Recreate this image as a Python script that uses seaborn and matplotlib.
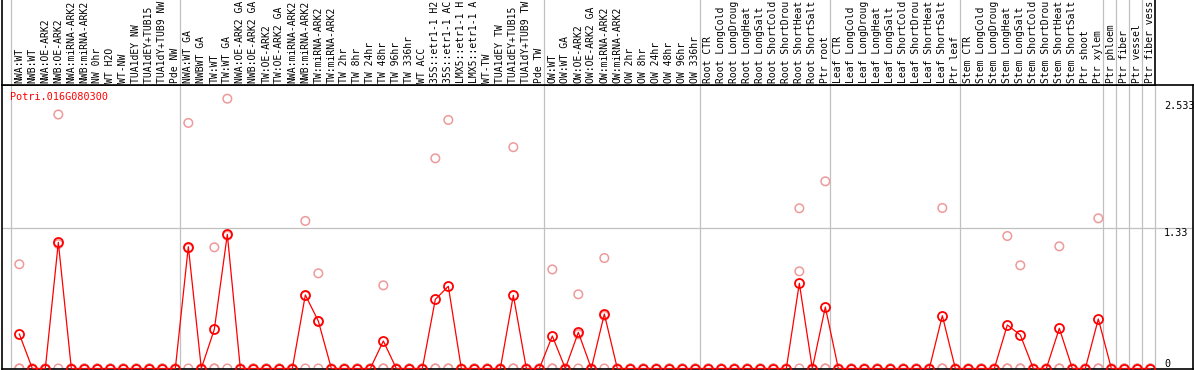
import matplotlib
matplotlib.use("Agg")
import matplotlib.pyplot as plt
import matplotlib.transforms as mtransforms
import seaborn as sns
import numpy as np
import pandas as pd

# ---------------- data ----------------
gene = "Potri.016G080300"

labels_g1 = ["NWA:WT", "NWB:WT", "NWA:OE-ARK2", "NWB:OE-ARK2", "NWA:miRNA-ARK2",
             "NWB:miRNA-ARK2", "NW 0hr", "WT H2O", "WT-NW", "TUA1dEY NW",
             "TUA1dEY+TUB15 NW", "TUA1dY+TUB9 NW", "Pde NW"]
labels_g2 = ["NWA:WT GA", "NWBWT GA", "TW:WT", "TW:WT GA", "NWA:OE-ARK2 GA",
             "NWB:OE-ARK2 GA", "TW:OE-ARK2", "TW:OE-ARK2 GA", "NWA:miRNA-ARK2",
             "NWB:miRNA-ARK2", "TW:miRNA-ARK2", "TW:miRNA-ARK2", "TW 2hr", "TW 8hr",
             "TW 24hr", "TW 48hr", "TW 96hr", "TW 336hr", "WT ACC",
             "35S::etr1-1 H2O", "35S::etr1-1 ACC", "LMX5::etr1-1 H2O",
             "LMX5::etr1-1 ACC", "WT-TW", "TUA1dEY TW", "TUA1dEY+TUB15 TW",
             "TUA1dY+TUB9 TW", "Pde TW"]
labels_g3 = ["OW:WT", "OW:WT GA", "OW:OE-ARK2", "OW:OE-ARK2 GA", "OW:miRNA-ARK2",
             "OW:miRNA-ARK2", "OW 2hr", "OW 8hr", "OW 24hr", "OW 48hr", "OW 96hr",
             "OW 336hr"]
labels_g4 = ["Root CTR", "Root LongCold", "Root LongDrought", "Root LongHeat",
             "Root LongSalt", "Root ShortCold", "Root ShortDrought", "Root ShortHeat",
             "Root ShortSalt", "Ptr root"]
labels_g5 = ["Leaf CTR", "Leaf LongCold", "Leaf LongDrought", "Leaf LongHeat",
             "Leaf LongSalt", "Leaf ShortCold", "Leaf ShortDrought", "Leaf ShortHeat",
             "Leaf ShortSalt", "Ptr leaf"]
labels_g6 = ["Stem CTR", "Stem LongCold", "Stem LongDrought", "Stem LongHeat",
             "Stem LongSalt", "Stem ShortCold", "Stem ShortDrought", "Stem ShortHeat",
             "Stem ShortSalt", "Ptr shoot", "Ptr xylem"]
labels_g7 = ["Ptr phloem", "Ptr fiber", "Ptr vessel", "Ptr fiber vessel"]

mean_g1 = [0.327, 0, 0, 1.197, 0, 0, 0, 0, 0, 0, 0, 0, 0]
mean_g2 = [1.156, 0, 0.372, 1.273, 0, 0, 0, 0, 0, 0.697, 0.45, 0, 0, 0, 0,
           0.261, 0, 0, 0, 0.656, 0.78, 0, 0, 0, 0, 0.694, 0, 0]
mean_g3 = [0.308, 0, 0.343, 0, 0.517, 0, 0, 0, 0, 0, 0, 0]
mean_g4 = [0, 0, 0, 0, 0, 0, 0, 0.808, 0, 0.583]
mean_g5 = [0, 0, 0, 0, 0, 0, 0, 0, 0.501, 0]
mean_g6 = [0, 0, 0, 0.413, 0.318, 0, 0, 0.381, 0, 0, 0.47]
mean_g7 = [0, 0, 0, 0]

rep1_g1 = [0.989, 0, 0, 2.41, 0, 0, 0, 0, 0, 0, 0, 0, 0]
rep1_g2 = [2.33, 0, 1.15, 2.56, 0, 0, 0, 0, 0, 1.40, 0.903, 0, 0, 0, 0,
           0.789, 0, 0, 0, 1.994, 2.358, 0, 0, 0, 0, 2.10, 0, 0]
rep1_g3 = [0.94, 0, 0.704, 0, 1.048, 0, 0, 0, 0, 0, 0, 0]
rep1_g4 = [0, 0, 0, 0, 0, 0, 0, 1.52, 0, 1.776]
rep1_g5 = [0, 0, 0, 0, 0, 0, 0, 0, 1.523, 0]
rep1_g6 = [0, 0, 0, 1.257, 0.979, 0, 0, 1.159, 0, 0, 1.425]
rep1_g7 = [0, 0, 0, 0]

rep2_g1 = [0, 0, 0, 1.18, 0, 0, 0, 0, 0, 0, 0, 0, 0]
rep2_g2 = [1.14, 0, 0, 1.26, 0, 0, 0, 0, 0, 0.69, 0.45, 0, 0, 0, 0,
           0, 0, 0, 0, 0, 0, 0, 0, 0, 0, 0, 0, 0]
rep2_g3 = [0, 0, 0.325, 0, 0.50, 0, 0, 0, 0, 0, 0, 0]
rep2_g4 = [0, 0, 0, 0, 0, 0, 0, 0.922, 0, 0]
rep2_g5 = [0, 0, 0, 0, 0, 0, 0, 0, 0, 0]
rep2_g6 = [0, 0, 0, 0, 0, 0, 0, 0, 0, 0, 0]
rep2_g7 = [0, 0, 0, 0]

axis_marks = [0, 1.33, 2.533]
axis_mark_text = ["0", "1.33", "2.533"]

labels = labels_g1 + labels_g2 + labels_g3 + labels_g4 + labels_g5 + labels_g6 + labels_g7
means = mean_g1 + mean_g2 + mean_g3 + mean_g4 + mean_g5 + mean_g6 + mean_g7
rep1 = rep1_g1 + rep1_g2 + rep1_g3 + rep1_g4 + rep1_g5 + rep1_g6 + rep1_g7
rep2 = rep2_g1 + rep2_g2 + rep2_g3 + rep2_g4 + rep2_g5 + rep2_g6 + rep2_g7
rep3 = [0] * len(labels)
groups = [labels_g1, labels_g2, labels_g3, labels_g4, labels_g5, labels_g6,
          ["x"], ["x"], ["x"], ["x"]]

n = len(labels)
idx = np.arange(n)
df_mean = pd.DataFrame({"i": idx, "v": means})
df_rep = pd.DataFrame({"i": np.concatenate([idx, idx, idx]),
                       "v": rep1 + rep2 + rep3})

# ---------------- layout ----------------
W, H = 1194, 370
fig = plt.figure(figsize=(W / 100, H / 100), dpi=100)


def rect(x0, y0, x1, y1):
    return [x0 / W, 1 - y1 / H, (x1 - x0) / W, (y1 - y0) / H]


PX = 13.0           # px per category
X0PX = 19.33        # px of category 0
YPX = 105.4         # px per unit
ZERO_Y = 368.5

ax = fig.add_axes(rect(2, 85, 1193, 369))
xmin = -(X0PX - 2) / PX
ax.set_xlim(xmin, xmin + 1191 / PX)
ymin = -(369 - ZERO_Y) / YPX
ax.set_ylim(ymin, ymin + 284 / YPX)

hax = fig.add_axes(rect(2, 0, 1155, 85))
hax.set_xlim(xmin, xmin + 1153 / PX)
hax.set_ylim(0, 1)

grid_c = "#c0c0c0"
lw1 = 0.9

# group separators
bounds = np.cumsum([0] + [len(g) for g in groups])
for b in bounds:
    ax.axvline(b - 0.615, color=grid_c, lw=lw1, zorder=0)
    if b < bounds[-1]:
        hax.axvline(b - 0.615, color=grid_c, lw=lw1, zorder=0)
ax.axhline(1.33, color=grid_c, lw=lw1, zorder=0)

# replicates (light) then mean (red)
sns.scatterplot(data=df_rep, x="i", y="v", ax=ax, marker="o", s=38,
                facecolors="none", edgecolor="#ee9a9a", linewidth=1.1,
                zorder=2, legend=False)
sns.lineplot(data=df_mean, x="i", y="v", ax=ax, color="#ff0000", lw=0.9,
             marker="o", markersize=6.5, markerfacecolor="none",
             markeredgecolor="#ff0000", markeredgewidth=1.3, zorder=3,
             legend=False)

ax.set_xticks([])
ax.set_yticks([])
ax.set_xlabel("")
ax.set_ylabel("")
for s in ax.spines.values():
    s.set_color("black")
    s.set_linewidth(1.2)

hax.set_xticks([])
hax.set_yticks([])
hax.spines["top"].set_visible(False)
for k in ["left", "right", "bottom"]:
    hax.spines[k].set_color("black")
    hax.spines[k].set_linewidth(1.2)

mono = "DejaVu Sans Mono"
MAXCH = 14  # header box shows at most this many characters
trans = mtransforms.blended_transform_factory(hax.transData, hax.transAxes)
for i, lab in enumerate(labels):
    hax.text(i, 2 / 85, lab[:MAXCH], rotation=90, ha="center", va="bottom",
             fontsize=7.0, family=mono, transform=trans, clip_on=False,
             color="black")

# gene name
ax.text(8 / 1191, 1 - (97 - 85) / 284, gene, transform=ax.transAxes,
        color="#ff0000", fontsize=7.3, family=mono, ha="left", va="center")

# value marks on right
for v, t in zip(axis_marks, axis_mark_text):
    ax.annotate(t, xy=(1, v), xycoords=("axes fraction", "data"),
                xytext=(-29, -4.5 if v > 0 else 4.5), textcoords="offset pixels",
                ha="left", va="center", fontsize=7.3, family=mono, color="black")

fig.savefig("out.png", dpi=100)
